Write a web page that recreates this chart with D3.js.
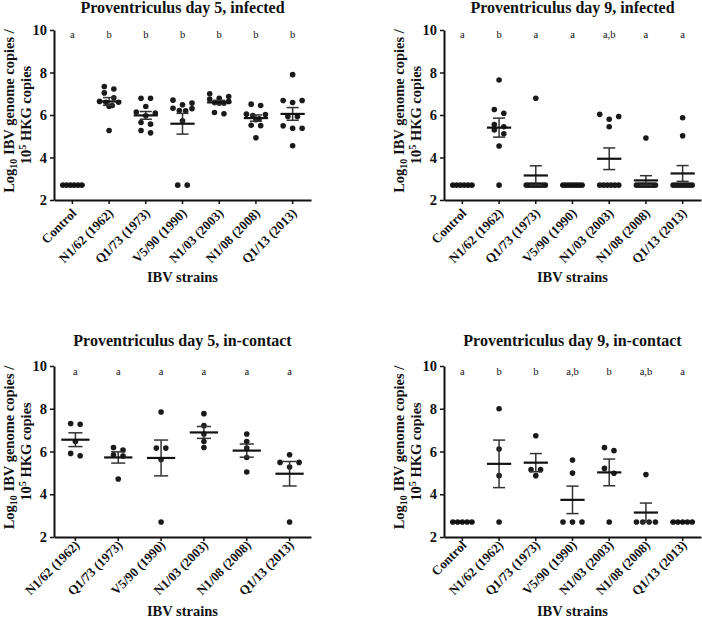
<!DOCTYPE html>
<html>
<head>
<meta charset="utf-8">
<script src="https://cdn.jsdelivr.net/npm/d3@7"></script>
<style>
  body { margin: 0; background: #fff; }
  svg { display: block; }
  text { font-family: "Liberation Serif", "Times New Roman", serif; fill: #111; }
</style>
</head>
<body>
<div id="chart"></div>
<script>
// Categories
const strains = ["Control", "N1/62 (1962)", "Q1/73 (1973)", "V5/90 (1990)", "N1/03 (2003)", "N1/08 (2008)", "Q1/13 (2013)"];
const strainsNoControl = ["N1/62 (1962)", "Q1/73 (1973)", "V5/90 (1990)", "N1/03 (2003)", "N1/08 (2008)", "Q1/13 (2013)"];
const yTicks = [2, 4, 6, 8, 10];

// Proventriculus day 5, infected (log10 copies per bird)
const day5Infected = [
    [2.7, 2.7, 2.7, 2.7, 2.7, 2.7],
    [7.34, 7.22, 7.04, 6.81, 6.64, 6.60, 6.60, 6.45, 6.40, 5.27],
    [6.79, 6.79, 6.40, 6.14, 6.09, 5.96, 5.65, 5.57, 5.27, 5.16],
    [6.70, 6.56, 6.48, 6.32, 6.30, 6.21, 6.20, 5.73, 2.7, 2.7],
    [7.00, 6.87, 6.79, 6.75, 6.64, 6.59, 6.56, 6.56, 6.12, 6.06],
    [6.51, 6.45, 6.04, 6.02, 5.98, 5.82, 5.78, 5.52, 5.50, 4.93],
    [7.90, 6.68, 6.68, 6.59, 5.93, 5.93, 5.49, 5.38, 5.38, 4.55]
];
const day5InfectedLetters = ["a", "b", "b", "b", "b", "b", "b"];

// Proventriculus day 9, infected
const day9Infected = [
    [2.7, 2.7, 2.7, 2.7, 2.7, 2.7],
    [7.65, 6.26, 6.08, 5.55, 5.45, 5.30, 5.12, 4.54, 2.7],
    [6.79, 2.7, 2.7, 2.7, 2.7, 2.7, 2.7, 2.7, 2.7],
    [2.7, 2.7, 2.7, 2.7, 2.7, 2.7, 2.7, 2.7],
    [6.03, 5.93, 5.80, 5.45, 2.7, 2.7, 2.7, 2.7, 2.7, 2.7],
    [4.92, 2.7, 2.7, 2.7, 2.7, 2.7, 2.7, 2.7, 2.7, 2.7],
    [5.87, 5.02, 2.7, 2.7, 2.7, 2.7, 2.7, 2.7, 2.7, 2.7]
];
const day9InfectedLetters = ["a", "b", "a", "a", "a,b", "a", "a"];

// Proventriculus day 5, in-contact
const day5Contact = [
    [7.31, 7.27, 6.47, 5.91, 5.80],
    [6.19, 6.07, 5.85, 5.79, 4.71],
    [7.85, 6.16, 6.16, 5.62, 2.7],
    [7.77, 7.21, 6.82, 6.47, 6.19],
    [6.82, 6.47, 6.16, 5.72, 5.04],
    [5.85, 5.49, 5.49, 5.27, 2.7]
];
const day5ContactLetters = ["a", "a", "a", "a", "a", "a"];

// Proventriculus day 9, in-contact
const day9Contact = [
    [2.7, 2.7, 2.7, 2.7, 2.7],
    [8.00, 6.12, 4.87, 2.7],
    [6.74, 5.15, 5.15, 4.87],
    [5.60, 4.99, 2.7, 2.7, 2.7],
    [6.18, 6.04, 5.21, 4.98, 2.7],
    [4.92, 2.7, 2.7, 2.7, 2.7],
    [2.7, 2.7, 2.7, 2.7, 2.7]
];
const day9ContactLetters = ["a", "b", "b", "a,b", "b", "a,b", "a"];

const width = 702, height = 618;

const svg = d3.select("#chart").append("svg")
    .attr("width", width)
    .attr("height", height);

// Prism-like scatter layout: points close in y share a row and spread sideways
function layoutDots(vals, y) {
    const sorted = vals.slice().sort((a, b) => b - a);
    const out = [];
    let i = 0;
    while (i < sorted.length) {
        const y0 = y(sorted[i]);
        let j = i;
        while (j < sorted.length && y(sorted[j]) - y0 <= 5) j++;
        const n = j - i;
        const sp = n > 1 ? Math.min(9.5, 19 / (n - 1)) : 0;
        // slots: outer ones first, centre last
        const slots = d3.range(n).map(k => k - (n - 1) / 2)
            .sort((a, b) => Math.abs(b) - Math.abs(a) || a - b);
        for (let k = 0; k < n; k++) out.push({ v: sorted[i + k], dx: slots[k] * sp });
        i = j;
    }
    return out;
}

function drawPanel(p) {
    const g = svg.append("g");

    const x = d3.scaleBand().domain(p.cats).range([p.left, p.right]).padding(0);
    const y = d3.scaleLinear().domain([2, 10]).range([p.bottom, p.top]);
    const bw = x.bandwidth();
    const midX = (p.left + p.right) / 2;
    const midY = (p.top + p.bottom) / 2;

    // Title
    g.append("text")
        .attr("x", midX)
        .attr("y", p.titleY)
        .attr("text-anchor", "middle")
        .style("font-size", "16px")
        .style("font-weight", "bold")
        .text(p.title);

    // Dots, means and SEM
    p.cats.forEach((c, i) => {
        const vals = p.values[i];
        const cx = x(c) + bw / 2;

        g.selectAll(null)
            .data(layoutDots(vals, y))
            .enter()
            .append("circle")
            .attr("cx", d => cx + d.dx)
            .attr("cy", d => y(d.v))
            .attr("r", 2.8)
            .attr("fill", "#1a1a1a");

        const m = d3.mean(vals);
        const sem = d3.deviation(vals) / Math.sqrt(vals.length);
        if (sem > 0.001) {
            g.append("line")
                .attr("x1", cx).attr("x2", cx)
                .attr("y1", y(m - sem)).attr("y2", y(m + sem))
                .attr("stroke", "#333").attr("stroke-width", 1.5);
            [m - sem, m + sem].forEach(v => {
                g.append("line")
                    .attr("x1", cx - bw * 0.165).attr("x2", cx + bw * 0.165)
                    .attr("y1", y(v)).attr("y2", y(v))
                    .attr("stroke", "#333").attr("stroke-width", 1.5);
            });
        }
        g.append("line")
            .attr("x1", cx - bw * 0.33).attr("x2", cx + bw * 0.33)
            .attr("y1", y(m)).attr("y2", y(m))
            .attr("stroke", "#111").attr("stroke-width", 2.2);

        // Significance letters
        g.append("text")
            .attr("x", cx)
            .attr("y", p.lettersY)
            .attr("text-anchor", "middle")
            .style("font-size", "10.5px")
            .text(p.letters[i]);
    });

    // Axes
    const yAxis = g.append("g")
        .attr("transform", `translate(${p.left},0)`)
        .call(d3.axisLeft(y).tickValues(yTicks).tickSize(4).tickSizeOuter(0).tickPadding(3));
    yAxis.select(".domain").attr("stroke", "#111").attr("stroke-width", 2);
    yAxis.selectAll(".tick line").attr("stroke", "#111").attr("stroke-width", 1.5);
    yAxis.selectAll(".tick text")
        .style("font-family", "'Liberation Serif', serif")
        .style("font-size", "14.5px")
        .style("font-weight", "bold")
        .attr("fill", "#111");

    const xAxis = g.append("g")
        .attr("transform", `translate(0,${p.bottom})`)
        .call(d3.axisBottom(x).tickSize(4).tickSizeOuter(0));
    xAxis.select(".domain").attr("stroke", "#111").attr("stroke-width", 2);
    xAxis.selectAll(".tick line").attr("stroke", "#111").attr("stroke-width", 1.5);
    xAxis.selectAll(".tick text")
        .attr("x", 0).attr("y", 0).attr("dy", 0)
        .attr("transform", `translate(5,${p.labelDrop}) rotate(-45)`)
        .attr("text-anchor", "end")
        .style("font-family", "'Liberation Serif', serif")
        .style("font-size", "13px")
        .style("font-weight", "bold")
        .attr("fill", "#111");

    // X axis title
    g.append("text")
        .attr("x", midX)
        .attr("y", p.xTitleY)
        .attr("text-anchor", "middle")
        .style("font-size", "14.5px")
        .style("font-weight", "bold")
        .text("IBV strains");

    // Y axis title (two lines)
    const l1 = g.append("text")
        .attr("transform", `translate(${p.left - 40},${midY - 4}) rotate(-90)`)
        .attr("text-anchor", "middle")
        .style("font-size", "14.5px")
        .style("font-weight", "bold");
    l1.append("tspan").text("Log");
    l1.append("tspan").attr("dy", 3).style("font-size", "10px").text("10");
    l1.append("tspan").attr("dy", -3).text(" IBV genome copies /");

    const l2 = g.append("text")
        .attr("transform", `translate(${p.left - 23},${midY}) rotate(-90)`)
        .attr("text-anchor", "middle")
        .style("font-size", "14.5px")
        .style("font-weight", "bold");
    l2.append("tspan").text("10");
    l2.append("tspan").attr("dy", -5).style("font-size", "10px").text("5");
    l2.append("tspan").attr("dy", 5).text(" HKG copies");
}

drawPanel({
    title: "Proventriculus day 5, infected",
    cats: strains, values: day5Infected, letters: day5InfectedLetters,
    left: 54, right: 311, top: 30, bottom: 200,
    titleY: 13, lettersY: 38, xTitleY: 282, labelDrop: 14
});
drawPanel({
    title: "Proventriculus day 9, infected",
    cats: strains, values: day9Infected, letters: day9InfectedLetters,
    left: 444, right: 701, top: 30, bottom: 200,
    titleY: 13, lettersY: 38, xTitleY: 282, labelDrop: 14
});
drawPanel({
    title: "Proventriculus day 5, in-contact",
    cats: strainsNoControl, values: day5Contact, letters: day5ContactLetters,
    left: 54, right: 311, top: 366, bottom: 537,
    titleY: 346, lettersY: 375, xTitleY: 616, labelDrop: 9
});
drawPanel({
    title: "Proventriculus day 9, in-contact",
    cats: strains, values: day9Contact, letters: day9ContactLetters,
    left: 444, right: 701, top: 366, bottom: 537,
    titleY: 346, lettersY: 375, xTitleY: 616, labelDrop: 9
});
</script>
</body>
</html>
